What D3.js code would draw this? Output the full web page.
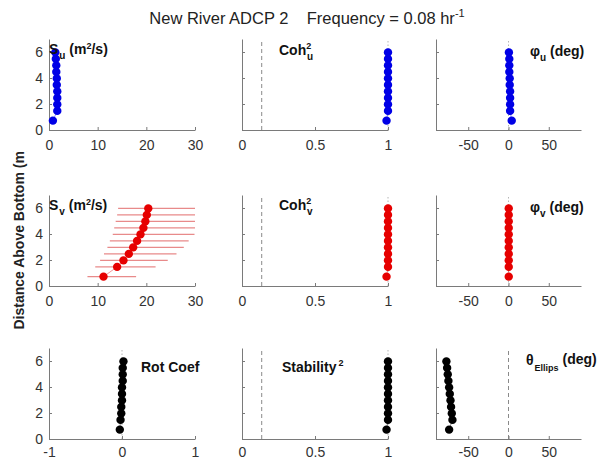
<!DOCTYPE html>
<html>
<head>
<meta charset="utf-8">
<script src="https://cdn.jsdelivr.net/npm/d3@7"></script>
<style>
  html, body { margin: 0; padding: 0; background: #fff; }
  svg { display: block; font-family: "Liberation Sans", Arial, Helvetica, sans-serif; }
</style>
</head>
<body>
<svg id="chart" width="614" height="461"></svg>
<script>
// ---------------- data ----------------
const height = [0.72, 1.47, 1.97, 2.47, 2.97, 3.47, 3.97, 4.47, 4.97, 5.47, 5.97];
const Su = [0.8, 1.7, 1.7, 1.7, 1.7, 1.6, 1.6, 1.5, 1.5, 1.4, 1.3];
const CohU = [0.99, 1, 1, 1, 1, 1, 1, 1, 1, 1, 1];
const phiU = [4, 2, 2, 2, 2, 1.5, 1.5, 1, 1, 1, 0.5];
const Sv = [11.2, 14.0, 15.3, 16.4, 17.3, 18.1, 18.8, 19.4, 19.8, 20.1, 20.4];
const SvLow = [7.9, 9.5, 10.5, 11.3, 12.0, 12.5, 13.1, 13.4, 13.7, 14.0, 14.2];
const SvHigh = [17.9, 21.9, 24.4, 26.2, 27.7, 28.7, 29.9, 31.0, 31.7, 32.2, 32.6];
const CohV = [0.99, 1, 1, 1, 1, 1, 1, 1, 1, 1, 1];
const phiV = [0.3, 0.3, 0.3, 0.3, 0.3, 0.3, 0.3, 0.3, 0.3, 0.3, 0.3];
const rotCoef = [-0.03, -0.02, -0.01, -0.01, 0, 0, 0, 0.01, 0.01, 0.01, 0.02];
const stability = [0.99, 1, 1, 1, 1, 1, 1, 1, 1, 1, 1];
const thetaEllips = [-73.7, -69.6, -70.4, -71.3, -72.0, -72.9, -73.7, -74.6, -75.4, -76.2, -77.1];
const cohSignif = 0.135;
const yTicks = [0, 2, 4, 6];
const ticksS = [0, 10, 20, 30];
const ticksCoh = [0, 0.5, 1];
const ticksDeg = [-50, 0, 50];
const ticksRot = [-1, 0, 1];

// ---------------- layout ----------------
const svg = d3.select("#chart");
const colX = [[49, 195], [242, 388], [436, 581]];
const rowBottom = [130, 286, 439];
const rowPad = [10, 10, 8];
const rowH = 91;
const BLUE = "#0000e6", RED = "#e60000", BLACK = "#000";

const panels = [
  {r:0,c:0, dom:[0,30], ticks:ticksS, vals:Su, color:BLUE, refs:[]},
  {r:0,c:1, dom:[0,1], ticks:ticksCoh, vals:CohU, color:BLUE, refs:[{v:cohSignif,t:"dash"},{v:1,t:"dot"}]},
  {r:0,c:2, dom:[-90,90], ticks:ticksDeg, vals:phiU, color:BLUE, refs:[{v:0,t:"dot"}]},
  {r:1,c:0, dom:[0,30], ticks:ticksS, vals:Sv, color:RED, refs:[], err:[SvLow,SvHigh]},
  {r:1,c:1, dom:[0,1], ticks:ticksCoh, vals:CohV, color:RED, refs:[{v:cohSignif,t:"dash"},{v:1,t:"dot"}]},
  {r:1,c:2, dom:[-90,90], ticks:ticksDeg, vals:phiV, color:RED, refs:[{v:0,t:"dot"}]},
  {r:2,c:0, dom:[-1,1], ticks:ticksRot, vals:rotCoef, color:BLACK, refs:[{v:0,t:"dot"}]},
  {r:2,c:1, dom:[0,1], ticks:ticksCoh, vals:stability, color:BLACK, refs:[{v:cohSignif,t:"dash"},{v:1,t:"dot"}]},
  {r:2,c:2, dom:[-90,90], ticks:ticksDeg, vals:thetaEllips, color:BLACK, refs:[{v:0,t:"dash"}]}
];

const defs = svg.append("defs");

panels.forEach((p, i) => {
  const x = d3.scaleLinear().domain(p.dom).range(colX[p.c]);
  const y = d3.scaleLinear().domain([0, 7]).range([rowBottom[p.r], rowBottom[p.r] - rowH]);
  const g = svg.append("g");

  defs.append("clipPath").attr("id", "clip" + i)
    .append("rect").attr("x", colX[p.c][0]).attr("y", rowBottom[p.r] - rowH)
    .attr("width", colX[p.c][1] - colX[p.c][0]).attr("height", rowH);

  // reference lines
  p.refs.forEach(rf => {
    g.append("line")
      .attr("x1", x(rf.v)).attr("x2", x(rf.v))
      .attr("y1", y(0)).attr("y2", y(7))
      .attr("stroke", rf.t === "dash" ? "#8a8a8a" : "#b5b5b5")
      .attr("stroke-width", 1)
      .attr("stroke-dasharray", rf.t === "dash" ? "4,3" : "1.5,2");
  });

  // axes
  const xa = d3.axisBottom(x).tickValues(p.ticks).tickSizeInner(-3).tickSizeOuter(0).tickPadding(rowPad[p.r])
    .tickFormat(d => d < 0 ? "-" + Math.abs(d) : d3.format("~g")(d));
  const ya = d3.axisLeft(y).tickValues(yTicks).tickSizeInner(-3).tickSizeOuter(0).tickPadding(6)
    .tickFormat(p.c === 0 ? d3.format("d") : () => "");
  const gx = g.append("g").attr("transform", `translate(0,${rowBottom[p.r]})`).call(xa);
  const gy = g.append("g").attr("transform", `translate(${colX[p.c][0]},0)`).call(ya);
  [gx, gy].forEach(ax => {
    ax.select(".domain").attr("stroke", "#7a7a7a");
    ax.selectAll(".tick line").attr("stroke", "#7a7a7a");
    ax.selectAll(".tick text").attr("fill", "#333").style("font-size", "14px")
      .style("font-family", "'Liberation Sans', Arial, sans-serif");
  });

  // error bars
  if (p.err) {
    g.append("g").attr("clip-path", `url(#clip${i})`).selectAll("line")
      .data(height).join("line")
      .attr("x1", (d, k) => x(p.err[0][k])).attr("x2", (d, k) => x(p.err[1][k]))
      .attr("y1", d => y(d)).attr("y2", d => y(d))
      .attr("stroke", "#e88a8a").attr("stroke-width", 1.1);
  }

  p.g = g; p.x = x; p.y = y;
});

// ---------------- panel labels ----------------
function label(x0, y0, parts) {
  const t = svg.append("text").attr("x", x0).attr("y", y0)
    .attr("font-weight", "bold").attr("font-size", 14).attr("fill", "#111");
  parts.forEach(pt => {
    const s = t.append("tspan").text(pt.t);
    if (pt.dy) s.attr("dy", pt.dy);
    if (pt.dx) s.attr("dx", pt.dx);
    if (pt.x !== undefined) s.attr("x", pt.x);
    if (pt.fs) s.attr("font-size", pt.fs);
  });
}
label(49, 54, [{t:"S"}, {t:"u", fs:10, dy:5, dx:1}, {t:" (m", dy:-5}, {t:"2", fs:9, dy:-5}, {t:"/s)", dy:5}]);
label(279, 55, [{t:"Coh"}, {t:"2", fs:9, dy:-6}, {t:"u", fs:10, dy:11, x:307}]);
label(530, 56, [{t:"φ"}, {t:"u", fs:10, dy:5}, {t:" (deg)", dy:-5}]);
label(49, 210, [{t:"S"}, {t:"v", fs:10, dy:5, dx:1}, {t:" (m", dy:-5}, {t:"2", fs:9, dy:-5}, {t:"/s)", dy:5}]);
label(279, 210, [{t:"Coh"}, {t:"2", fs:9, dy:-6}, {t:"v", fs:10, dy:11, x:307}]);
label(530, 212, [{t:"φ"}, {t:"v", fs:10, dy:5}, {t:" (deg)", dy:-5}]);
label(141, 372, [{t:"Rot Coef"}]);
label(282, 372, [{t:"Stability"}, {t:"2", fs:9, dy:-6, dx:2}]);
label(526, 365, [{t:"θ"}, {t:"Ellips", fs:9, dy:6, dx:1}, {t:" (deg)", dy:-7}]);

// ---------------- data marks (drawn over labels) ----------------
panels.forEach(p => {
  const pts = p.vals.map((v, k) => [p.x(v), p.y(height[k])]);
  p.g.append("path").datum(pts)
    .attr("d", d3.line())
    .attr("fill", "none").attr("stroke", p.color).attr("stroke-width", 0.7).attr("opacity", 0.6);
  p.g.append("g").selectAll("circle").data(pts).join("circle")
    .attr("cx", d => d[0]).attr("cy", d => d[1]).attr("r", 4.2)
    .attr("fill", p.color);
});

// ---------------- title & y label ----------------
const title = svg.append("text").attr("x", 307).attr("y", 24).attr("text-anchor", "middle")
  .attr("font-size", 16.5).attr("fill", "#222").style("white-space", "pre");
title.append("tspan").text("New River ADCP 2    Frequency = 0.08 hr");
title.append("tspan").text("-1").attr("font-size", 11).attr("dy", -7);

defs.append("clipPath").attr("id", "ylabclip")
  .append("rect").attr("x", 0).attr("y", 151).attr("width", 40).attr("height", 300);
svg.append("g").attr("clip-path", "url(#ylabclip)")
  .append("text")
  .attr("transform", "translate(24,238) rotate(-90)")
  .attr("text-anchor", "middle").attr("font-weight", "bold").attr("font-size", 14).attr("fill", "#222")
  .text("Distance Above Bottom (m)");
</script>
</body>
</html>
